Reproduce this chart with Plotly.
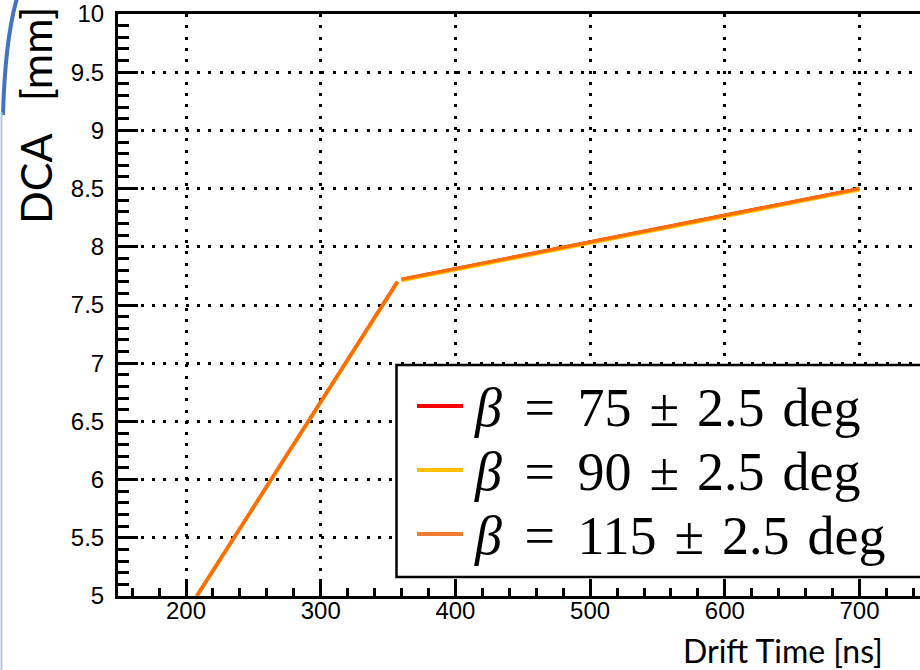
import plotly.graph_objects as go

# ---------------- data ----------------
drift_time_75 = [208, 357, None, 360, 700]
dca_75 = [5.0, 7.70, None, 7.72, 8.50]

drift_time_90 = [208, 357, None, 360, 700]
dca_90 = [5.0, 7.695, None, 7.71, 8.49]

drift_time_115 = [208, 357, None, 360, 700]
dca_115 = [5.0, 7.70, None, 7.72, 8.50]

betas = [75, 90, 115]
beta_spread = 2.5
line_colors = ["#ff0000", "#ffc000", "#ff6e00"]
legend_colors = ["#ff0000", "#ffc000", "#ed7d31"]

x_title = "Drift Time [ns]"
y_title = "DCA\u2003[mm]"

# ---------------- geometry helpers ----------------
W, H = 920, 670
L, R, T, B = 118, 0, 14, 74
PW = W - L - R
PH = H - T - B


def px(x):
    return (x - L) / PW


def py(y):
    return (H - B - y) / PH


fig = go.Figure()
series = [(drift_time_75, dca_75), (drift_time_90, dca_90), (drift_time_115, dca_115)]
for (xs, ys), col, b in zip(series, line_colors, betas):
    fig.add_trace(go.Scatter(x=xs, y=ys, mode="lines", name=f"β = {b}",
                             line=dict(color=col, width=3.4), connectgaps=False,
                             showlegend=False))

tick_font = dict(family="Liberation Sans, Arial, sans-serif", size=24, color="black")

fig.update_xaxes(
    range=[149.5, 744.9], tick0=0, dtick=100,
    ticks="inside", ticklen=16, tickwidth=2.5, tickcolor="black",
    showline=True, linewidth=3, linecolor="black", mirror=True,
    showgrid=True, gridcolor="black", gridwidth=2.7, griddash="3px,8.3px",
    zeroline=False, tickfont=tick_font, ticklabelstandoff=-9,
    minor=dict(dtick=20, ticks="inside", ticklen=8, tickwidth=2.5,
               tickcolor="black", showgrid=False),
)
fig.update_yaxes(
    range=[5, 10], tick0=0, dtick=0.5,
    ticks="inside", ticklen=20, tickwidth=2.5, tickcolor="black",
    showline=True, linewidth=3, linecolor="black", mirror=False,
    showgrid=True, gridcolor="black", gridwidth=2.7, griddash="3px,8.3px",
    zeroline=False, tickfont=tick_font, ticklabelstandoff=6,
    minor=dict(dtick=0.1, ticks="inside", ticklen=11, tickwidth=2.5,
               tickcolor="black", showgrid=False),
)

shapes = []
annotations = []

# legend box
shapes.append(dict(type="rect", xref="paper", yref="paper", layer="above",
                   x0=px(396.5), x1=px(935), y0=py(577), y1=py(365),
                   fillcolor="white", line=dict(color="black", width=2.5)))
row_y = [406, 470, 534]
wide = "\u00a0\u200a\u200a"
narrow = "\u00a0\u200a"
for yy, col, b in zip(row_y, legend_colors, betas):
    shapes.append(dict(type="line", xref="paper", yref="paper", layer="above",
                       x0=px(417), x1=px(463), y0=py(yy), y1=py(yy),
                       line=dict(color=col, width=4)))
    annotations.append(dict(
        text=f"<i>β</i>{wide}={wide}{b}{narrow}±{narrow}{beta_spread}{narrow}deg",
        xref="paper", yref="paper", x=px(472), y=py(yy + 2),
        xanchor="left", yanchor="middle", showarrow=False,
        font=dict(family="Liberation Serif, Times New Roman, serif", size=54, color="black")))

# axis titles
annotations.append(dict(text=x_title, xref="paper", yref="paper",
                        x=px(885), y=py(650), xanchor="right", yanchor="middle",
                        showarrow=False,
                        font=dict(family="Lato, sans-serif", size=32, color="black")))
annotations.append(dict(text=y_title, xref="paper", yref="paper",
                        x=px(35), y=py(116), xanchor="center", yanchor="middle",
                        textangle=-90, showarrow=False,
                        font=dict(family="Lato, sans-serif", size=43, color="black")))

# slide decoration on the left edge
shapes.append(dict(type="path", xref="paper", yref="paper", layer="above",
                   path=f"M {px(17)},{py(-2)} Q {px(5)},{py(40)} {px(3)},{py(115)}",
                   line=dict(color="#4472c4", width=4)))
shapes.append(dict(type="line", xref="paper", yref="paper", layer="above",
                   x0=px(1.5), x1=px(1.5), y0=py(112), y1=py(672),
                   line=dict(color="#b4c7e7", width=2)))

fig.update_layout(
    width=W, height=H,
    margin=dict(l=L, r=R, t=T, b=B),
    paper_bgcolor="white", plot_bgcolor="white",
    showlegend=False,
    shapes=shapes, annotations=annotations,
)

fig.write_html("out.html")
